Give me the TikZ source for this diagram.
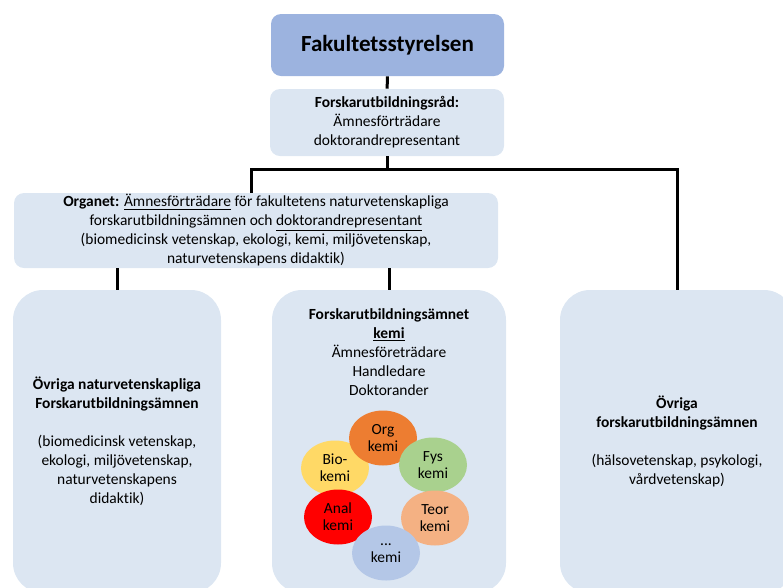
\documentclass[tikz,border=0pt]{standalone}
\usepackage{fontspec}
\setmainfont{Carlito}[Ligatures=NoCommon]
\usepackage{xcolor}
\usepackage{tikz}
\usetikzlibrary{shapes,positioning}

\definecolor{paleblue}{HTML}{DCE6F2}
\definecolor{headblue}{HTML}{9CB3DF}
\definecolor{orgcol}{HTML}{ED7D31}
\definecolor{fyscol}{HTML}{A9D18E}
\definecolor{biocol}{HTML}{FFD966}
\definecolor{analcol}{HTML}{FF0000}
\definecolor{teorcol}{HTML}{F4B183}
\definecolor{dotcol}{HTML}{B4C7E7}

\begin{document}
\begin{tikzpicture}[
    x=0.75pt, y=-0.75pt,
    every node/.style={
        font=\fontsize{11.6pt}{14.25pt}\selectfont,
        text=black
    },
    box/.style={
        rectangle,
        rounded corners=7.5pt,
        fill=paleblue,
        align=center,
        inner sep=0pt
    },
    tallbox/.style={
        box,
        rounded corners=22.5pt,
        minimum height=227.25pt
    },
    ring/.style={
        ellipse,
        minimum width=51pt,
        minimum height=41.25pt,
        inner sep=0pt,
        align=center,
        font=\fontsize{11.6pt}{12.75pt}\selectfont
    },
    link/.style={line width=2.25pt}
]
    \useasboundingbox (0,0) rectangle (783,587);
    \clip (0,0) rectangle (783,587);

    \node[box, fill=headblue, minimum width=174.75pt, minimum height=46.5pt,
        font=\fontsize{17.3pt}{20pt}\selectfont\bfseries] (fak) at (387.5,45) {Fakultetsstyrelsen};

    \node[box, minimum width=175.5pt, minimum height=50.25pt] (rad) at (387,122.5)
        {\textbf{Forskarutbildningsråd:}\\ Ämnesförträdare\\ doktorandrepresentant};

    \node[box, minimum width=363pt, minimum height=56.25pt] (organ) at (256,230.5)
        {\textbf{Organet:} \underline{Ämnesförträdare} för fakultetens naturvetenskapliga\\
         forskarutbildningsämnen och \underline{doktorandrepresentant}\\
         (biomedicinsk vetenskap, ekologi, kemi, miljövetenskap,\\
         naturvetenskapens didaktik)};

    \node[tallbox, minimum width=156pt] (ovrnat) at (117,441.5)
        {\textbf{Övriga naturvetenskapliga}\\ \textbf{Forskarutbildningsämnen}\\[14.25pt]
         (biomedicinsk vetenskap,\\ ekologi, miljövetenskap,\\ naturvetenskapens\\ didaktik)};

    \node[tallbox, minimum width=175.5pt] (kemi) at (389,441.5) {};

    \node[tallbox, minimum width=175.5pt] (ovrig) at (677,441.5)
        {\textbf{Övriga}\\ \textbf{forskarutbildningsämnen}\\[14.25pt]
         (hälsovetenskap, psykologi,\\ vårdvetenskap)};

    \node[align=center, inner sep=0pt, below=14pt of kemi.north] (kemitext)
        {\textbf{Forskarutbildningsämnet}\\ \textbf{\underline{kemi}}\\
         Ämnesföreträdare\\ Handledare\\ Doktorander};

    \node[ring, fill=biocol] (bio) at (335,468) {Bio-\\kemi};
    \node[ring, fill=orgcol] (org) at (383,438) {Org\\kemi};
    \node[ring, fill=fyscol] (fys) at (433,465) {Fys\\kemi};
    \node[ring, fill=teorcol] (teor) at (435,518) {Teor\\kemi};
    \node[ring, fill=analcol] (anal) at (338,517) {Anal\\kemi};
    \node[ring, fill=dotcol] (dots) at (386,553) {...\\kemi};

    \coordinate (jl) at (251,169);
    \coordinate (jr) at (677,169);

    \draw[link] (fak) -- (rad);
    \draw[link] (rad.south) -- (rad.south |- jl);
    \draw[link] (jl |- organ.north) -- (jl) -- (jr) -- (ovrig.north);
    \draw[link] (organ.south -| ovrnat.north) -- (ovrnat.north);
    \draw[link] (organ.south -| kemi.north) -- (kemi.north);

\end{tikzpicture}
\end{document}
